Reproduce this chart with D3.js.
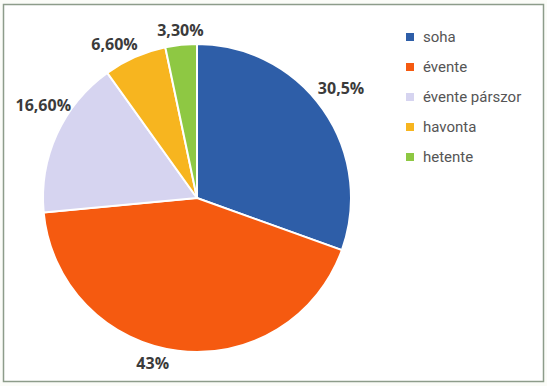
<!DOCTYPE html>
<html lang="hu">
<head>
<meta charset="UTF-8">
<title>Pie</title>
<script src="https://cdn.jsdelivr.net/npm/d3@7"></script>
<style>
  body { margin: 0; background: #fbfcf8; }
  svg { display: block; }
</style>
</head>
<body>
<div id="chart"></div>
<script>
// data
var categories = ["soha", "évente", "évente párszor", "havonta", "hetente"];
var values = [30.5, 43, 16.6, 6.6, 3.3];
var labels = ["30,5%", "43%", "16,60%", "6,60%", "3,30%"];
var colors = ["#2e5ea8", "#f55a10", "#d6d4f0", "#f7b51f", "#8ec843"];

var width = 547, height = 386;
var cx = 197, cy = 198, r = 154;

var svg = d3.select("#chart").append("svg")
    .attr("width", width)
    .attr("height", height);

// frame
svg.append("rect")
    .attr("x", 3.5).attr("y", 4.5)
    .attr("width", 540).attr("height", 377)
    .attr("fill", "#fff")
    .attr("stroke", "#8d9c8a")
    .attr("stroke-width", 1.5);

var pie = d3.pie().sort(null).value(function(d) { return d; });
var arcs = pie(values);

var arc = d3.arc().innerRadius(0).outerRadius(r);
var labelArc = d3.arc().innerRadius(170).outerRadius(170);

var g = svg.append("g").attr("transform", "translate(" + cx + "," + cy + ")");

g.selectAll("path")
  .data(arcs)
  .join("path")
    .attr("d", arc)
    .attr("fill", function(d, i) { return colors[i]; })
    .attr("stroke", "#fff")
    .attr("stroke-width", 2);

// small nudges, like Excel's best-fit placement
var nudge = [[5, -12], [-23, -3], [1, -22], [-14, 2], [1, 1]];

g.selectAll("text.lbl")
  .data(arcs)
  .join("text")
    .attr("class", "lbl")
    .attr("x", function(d, i) { return labelArc.centroid(d)[0] + nudge[i][0]; })
    .attr("y", function(d, i) { return labelArc.centroid(d)[1] + nudge[i][1]; })
    .attr("dy", "0.35em")
    .attr("text-anchor", "middle")
    .attr("font-family", "'Open Sans', sans-serif")
    .attr("font-weight", "bold")
    .attr("font-size", 16)
    .attr("fill", "#3b3b3b")
    .text(function(d, i) { return labels[i]; });

// legend
var legend = svg.append("g").attr("transform", "translate(406,37)");
var item = legend.selectAll("g")
  .data(categories)
  .join("g")
    .attr("transform", function(d, i) { return "translate(0," + (i * 30) + ")"; });

item.append("rect")
    .attr("x", 0).attr("y", -4)
    .attr("width", 8).attr("height", 8)
    .attr("fill", function(d, i) { return colors[i]; });

item.append("text")
    .attr("x", 17)
    .attr("dy", "0.35em")
    .attr("font-family", "Roboto, sans-serif")
    .attr("font-size", 15)
    .attr("fill", "#555")
    .text(function(d) { return d; });
</script>
</body>
</html>
